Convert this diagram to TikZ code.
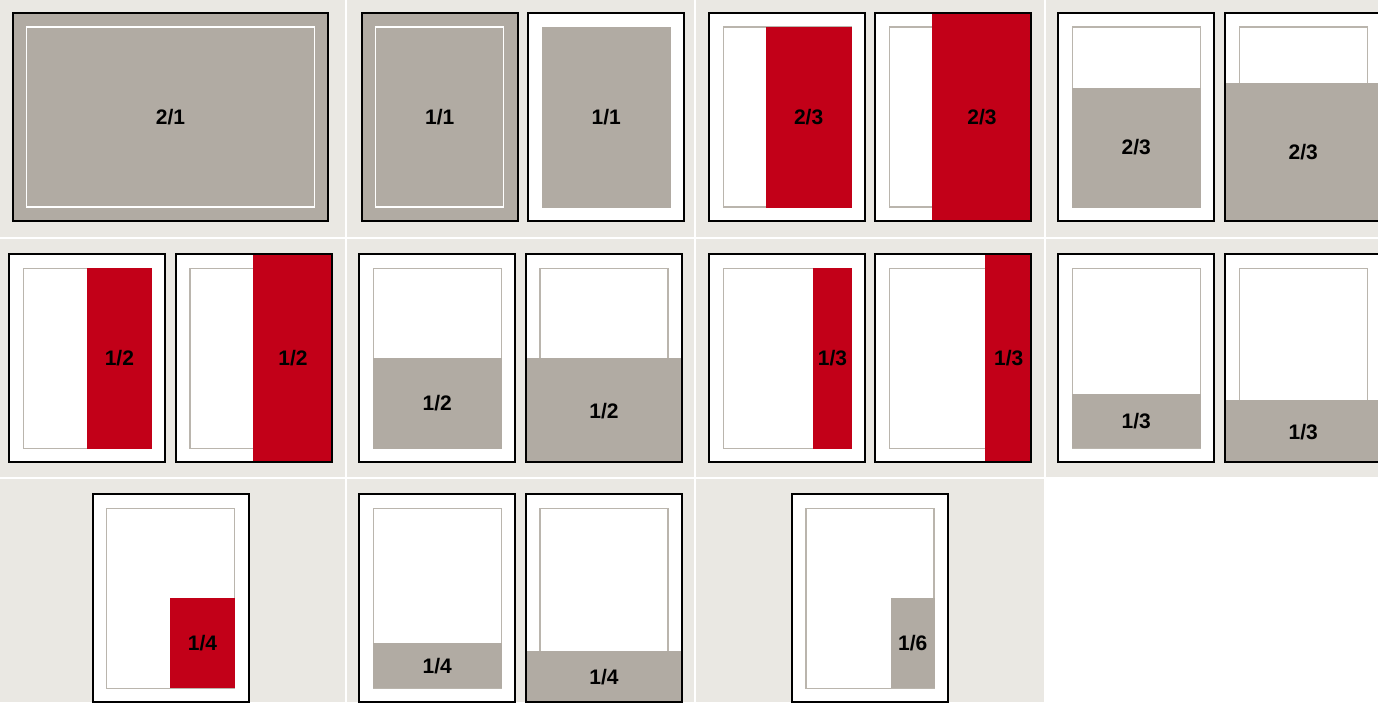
\documentclass[tikz,border=0pt]{standalone}
\usepackage{fontspec}
\setsansfont{Liberation Sans}
\definecolor{cellbg}{HTML}{EAE8E3}
\definecolor{adgray}{HTML}{B1ABA3}
\definecolor{adred}{HTML}{C20018}
\definecolor{marginline}{HTML}{BAB5AD}
\tikzset{
  cell/.style={fill=cellbg},
  pagebg/.style={fill=white},
  pageframe/.style={draw=black, line width=2pt},
  marginbox/.style={draw=marginline, line width=1.3pt},
  greyad/.style={
    fill=adgray, inner sep=0pt, outer sep=0pt,
    font=\sffamily\bfseries\fontsize{21}{21}\selectfont
  },
  redad/.style={greyad, fill=adred}
}

\begin{document}
\begin{tikzpicture}[x=1pt, y=-1pt]

    \useasboundingbox (0,0) rectangle (1378,702);
    \clip (0,0) rectangle (1378,702);
    \fill[white] (0,0) rectangle (1378,702);

    % Cells
    \fill[cell] (0,0) rectangle (344.5,236.5);
    \fill[cell] (346.5,0) rectangle (694,236.5);
    \fill[cell] (696,0) rectangle (1044,236.5);
    \fill[cell] (1046,0) rectangle (1378,236.5);
    \fill[cell] (0,238.5) rectangle (344.5,476.5);
    \fill[cell] (346.5,238.5) rectangle (694,476.5);
    \fill[cell] (696,238.5) rectangle (1044,476.5);
    \fill[cell] (1046,238.5) rectangle (1378,476.5);
    \fill[cell] (0,478.5) rectangle (344.5,702);
    \fill[cell] (346.5,478.5) rectangle (694,702);
    \fill[cell] (696,478.5) rectangle (1044,702);

    % Row 1
    \begin{scope}[shift={(12,12)}]
      \node[greyad, minimum width=317pt, minimum height=210pt] (ad21) at (158.5,105) {2/1};
      \draw[marginbox, draw=white] (14.5,15) rectangle (302.5,195);
      \draw[pageframe] (1,1) rectangle (316,209);
    \end{scope}
    \begin{scope}[shift={(360.7,12)}]
      \node[greyad, minimum width=158pt, minimum height=210pt] (ad11b) at (79,105) {1/1};
      \draw[marginbox, draw=white] (15,15) rectangle (143,195);
      \draw[pageframe] (1,1) rectangle (157,209);
    \end{scope}
    \begin{scope}[shift={(527.3,12)}]
      \fill[pagebg] (0,0) rectangle (158,210);
      \node[greyad, minimum width=129pt, minimum height=181pt] (ad11) at (79,105) {1/1};
      \draw[pageframe] (1,1) rectangle (157,209);
    \end{scope}
    \begin{scope}[shift={(708.3,12)}]
      \fill[pagebg] (0,0) rectangle (158,210);
      \draw[marginbox] (15,15) rectangle (143,195);
      \node[redad, minimum width=86pt, minimum height=181pt] (ad23v) at (100.3,105) {2/3};
      \draw[pageframe] (1,1) rectangle (157,209);
    \end{scope}
    \begin{scope}[shift={(874.3,12)}]
      \fill[pagebg] (0,0) rectangle (158,210);
      \draw[marginbox] (15,15) rectangle (143,195);
      \node[redad, minimum width=100.6pt, minimum height=210pt] (ad23vb) at (107.7,105) {2/3};
      \draw[pageframe] (1,1) rectangle (157,209);
    \end{scope}
    \begin{scope}[shift={(1057.3,12)}]
      \fill[pagebg] (0,0) rectangle (158,210);
      \draw[marginbox] (15,15) rectangle (143,195);
      \node[greyad, minimum width=129pt, minimum height=120pt] (ad23h) at (79,135.5) {2/3};
      \draw[pageframe] (1,1) rectangle (157,209);
    \end{scope}
    \begin{scope}[shift={(1224.3,12)}]
      \fill[pagebg] (0,0) rectangle (158,210);
      \draw[marginbox] (15,15) rectangle (143,195);
      \node[greyad, minimum width=158pt, minimum height=139.3pt] (ad23hb) at (79,140.3) {2/3};
      \draw[pageframe] (1,1) rectangle (157,209);
    \end{scope}

    % Row 2
    \begin{scope}[shift={(8.3,253.3)}]
      \fill[pagebg] (0,0) rectangle (158,210);
      \draw[marginbox] (15,15) rectangle (143,195);
      \node[redad, minimum width=65pt, minimum height=181pt] (ad12v) at (111.1,105) {1/2};
      \draw[pageframe] (1,1) rectangle (157,209);
    \end{scope}
    \begin{scope}[shift={(175,253.3)}]
      \fill[pagebg] (0,0) rectangle (158,210);
      \draw[marginbox] (15,15) rectangle (143,195);
      \node[redad, minimum width=80pt, minimum height=210pt] (ad12vb) at (118,105) {1/2};
      \draw[pageframe] (1,1) rectangle (157,209);
    \end{scope}
    \begin{scope}[shift={(358.3,253.3)}]
      \fill[pagebg] (0,0) rectangle (158,210);
      \draw[marginbox] (15,15) rectangle (143,195);
      \node[greyad, minimum width=129pt, minimum height=90.5pt] (ad12h) at (79,150) {1/2};
      \draw[pageframe] (1,1) rectangle (157,209);
    \end{scope}
    \begin{scope}[shift={(525,253.3)}]
      \fill[pagebg] (0,0) rectangle (158,210);
      \draw[marginbox] (15,15) rectangle (143,195);
      \node[greyad, minimum width=158pt, minimum height=105.3pt] (ad12hb) at (79,157.4) {1/2};
      \draw[pageframe] (1,1) rectangle (157,209);
    \end{scope}
    \begin{scope}[shift={(708.3,253.3)}]
      \fill[pagebg] (0,0) rectangle (158,210);
      \draw[marginbox] (15,15) rectangle (143,195);
      \node[redad, minimum width=39pt, minimum height=181pt] (ad13v) at (124.2,105) {1/3};
      \draw[pageframe] (1,1) rectangle (157,209);
    \end{scope}
    \begin{scope}[shift={(874.3,253.3)}]
      \fill[pagebg] (0,0) rectangle (158,210);
      \draw[marginbox] (15,15) rectangle (143,195);
      \node[redad, minimum width=47.3pt, minimum height=210pt] (ad13vb) at (134.4,105) {1/3};
      \draw[pageframe] (1,1) rectangle (157,209);
    \end{scope}
    \begin{scope}[shift={(1057.3,253.3)}]
      \fill[pagebg] (0,0) rectangle (158,210);
      \draw[marginbox] (15,15) rectangle (143,195);
      \node[greyad, minimum width=129pt, minimum height=54.3pt] (ad13h) at (79,167.9) {1/3};
      \draw[pageframe] (1,1) rectangle (157,209);
    \end{scope}
    \begin{scope}[shift={(1224.3,253.3)}]
      \fill[pagebg] (0,0) rectangle (158,210);
      \draw[marginbox] (15,15) rectangle (143,195);
      \node[greyad, minimum width=158pt, minimum height=63.3pt] (ad13hb) at (79,178.4) {1/3};
      \draw[pageframe] (1,1) rectangle (157,209);
    \end{scope}

    % Row 3
    \begin{scope}[shift={(91.7,493.3)}]
      \fill[pagebg] (0,0) rectangle (158,210);
      \draw[marginbox] (15,15) rectangle (143,195);
      \node[redad, minimum width=65pt, minimum height=90.3pt] (ad14) at (110.8,149.9) {1/4};
      \draw[pageframe] (1,1) rectangle (157,209);
    \end{scope}
    \begin{scope}[shift={(358.3,493.3)}]
      \fill[pagebg] (0,0) rectangle (158,210);
      \draw[marginbox] (15,15) rectangle (143,195);
      \node[greyad, minimum width=129pt, minimum height=45.3pt] (ad14h) at (79,172.3) {1/4};
      \draw[pageframe] (1,1) rectangle (157,209);
    \end{scope}
    \begin{scope}[shift={(525,493.3)}]
      \fill[pagebg] (0,0) rectangle (158,210);
      \draw[marginbox] (15,15) rectangle (143,195);
      \node[greyad, minimum width=158pt, minimum height=52.3pt] (ad14hb) at (79,183.9) {1/4};
      \draw[pageframe] (1,1) rectangle (157,209);
    \end{scope}
    \begin{scope}[shift={(791,493.3)}]
      \fill[pagebg] (0,0) rectangle (158,210);
      \draw[marginbox] (15,15) rectangle (143,195);
      \node[greyad, minimum width=43.7pt, minimum height=90.3pt] (ad16) at (121.8,149.9) {1/6};
      \draw[pageframe] (1,1) rectangle (157,209);
    \end{scope}

\end{tikzpicture}
\end{document}
